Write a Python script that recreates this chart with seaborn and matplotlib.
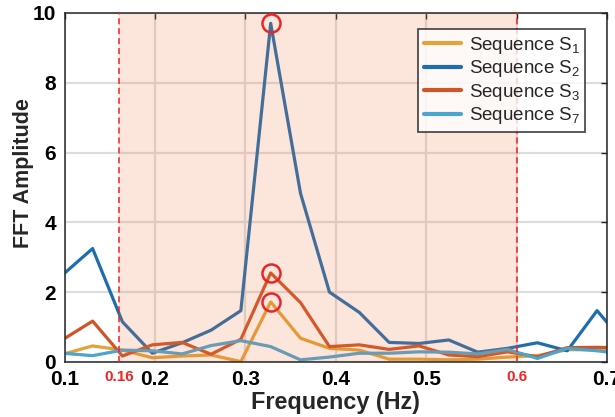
import matplotlib
matplotlib.use("Agg")
import matplotlib.pyplot as plt
import seaborn as sns
import numpy as np
import pandas as pd

# ---- data ----
freq = [0.098, 0.131, 0.164, 0.197, 0.230, 0.262, 0.295, 0.328, 0.361, 0.393,
        0.426, 0.459, 0.492, 0.525, 0.557, 0.590, 0.623, 0.656, 0.689, 0.721]
s1 = [0.22, 0.46, 0.34, 0.12, 0.17, 0.20, 0.01, 1.72, 0.68, 0.39,
      0.34, 0.08, 0.08, 0.06, 0.08, 0.14, 0.18, 0.35, 0.35, 0.35]
s2 = [2.50, 3.25, 1.15, 0.25, 0.55, 0.91, 1.47, 9.70, 4.83, 2.00,
      1.42, 0.56, 0.53, 0.63, 0.28, 0.39, 0.55, 0.32, 1.47, 0.50]
s3 = [0.64, 1.17, 0.17, 0.49, 0.56, 0.22, 0.65, 2.55, 1.70, 0.44,
      0.49, 0.36, 0.46, 0.20, 0.15, 0.29, 0.15, 0.41, 0.42, 0.40]
s7 = [0.25, 0.18, 0.34, 0.32, 0.23, 0.47, 0.61, 0.44, 0.06, 0.14,
      0.25, 0.25, 0.29, 0.28, 0.23, 0.36, 0.10, 0.39, 0.32, 0.22]
series_labels = ["Sequence S$_1$", "Sequence S$_2$", "Sequence S$_3$", "Sequence S$_7$"]
series_values = [s1, s2, s3, s7]
peak_series = [0, 1, 2]
band = [0.16, 0.6]
xticks = [0.1, 0.2, 0.3, 0.4, 0.5, 0.6, 0.7]
yticks = [0, 2, 4, 6, 8, 10]

colors = ["#E2A337", "#1E6EAE", "#CF5527", "#4BA5CF"]

sns.set_theme(style="white")
plt.rcParams["font.family"] = ["Liberation Sans", "DejaVu Sans"]
plt.rcParams["mathtext.fontset"] = "custom"
plt.rcParams["mathtext.rm"] = "Liberation Sans"
plt.rcParams["mathtext.it"] = "Liberation Sans"
plt.rcParams["mathtext.bf"] = "Liberation Sans:bold"

fig = plt.figure(figsize=(6.15, 4.17), dpi=100)
ax = fig.add_axes([0.105, 0.132, 0.882, 0.837])

rows = []
for lab, vals in zip(series_labels, series_values):
    for f, v in zip(freq, vals):
        rows.append({"freq": f, "amp": v, "series": lab})
df = pd.DataFrame(rows)

sns.lineplot(data=df, x="freq", y="amp", hue="series", palette=colors,
             linewidth=2.3, ax=ax, zorder=2, sort=False)

# shaded band on top of lines
ax.axvspan(band[0], band[1], color="#F0703C", alpha=0.18, lw=0, zorder=2.5)
for b in band:
    ax.axvline(b, color="#F02020", ls=(0, (4, 2.5)), lw=1.1, zorder=3)

# red circles on peaks
for i in peak_series:
    vals = np.array(series_values[i])
    k = int(np.argmax(vals))
    ax.plot(freq[k], vals[k], "o", mfc="none", mec="#E8262A", ms=13, mew=1.8, zorder=4)

ax.set_xlim(0.1, 0.7)
ax.set_ylim(0, 10)
ax.set_xticks(xticks)
ax.set_yticks(yticks)
xl = [f"{t:g}" for t in xticks]
xl[xticks.index(0.6)] = ""
ax.set_xticklabels(xl)
ax.set_yticklabels([f"{t:g}" for t in yticks])
for lbl in ax.get_xticklabels() + ax.get_yticklabels():
    lbl.set_fontweight("bold")
    lbl.set_fontsize(15)
ax.tick_params(direction="in", length=4, width=1, top=True, right=True,
               colors="#222222", labelcolor="black", pad=6)
for b in band:
    ax.text(b, -0.022, f"{b:g}", transform=ax.get_xaxis_transform(),
            ha="center", va="top", color="#F02525", fontsize=11, fontweight="bold")

ax.grid(True, color="#DDDDDD", lw=1.6, zorder=0)
ax.set_axisbelow(True)
for sp in ax.spines.values():
    sp.set_color("#262626")
    sp.set_linewidth(1.1)

ax.set_xlabel("Frequency (Hz)", fontsize=16.8, fontweight="bold", labelpad=1)
ax.set_ylabel("FFT Amplitude", fontsize=15.5, fontweight="bold")
ax.yaxis.set_label_coords(-0.057, 0.54)

leg = ax.legend(loc="upper right", bbox_to_anchor=(0.96, 0.954), borderaxespad=0,
                fontsize=13.5, frameon=True, fancybox=False, edgecolor="#222222",
                handlelength=2.0, labelspacing=0.14, borderpad=0.3, handletextpad=0.4)
leg.get_frame().set_linewidth(1.3)
leg.set_zorder(10)
for h in leg.get_lines():
    h.set_linewidth(3)

fig.savefig("out.png", dpi=100)
